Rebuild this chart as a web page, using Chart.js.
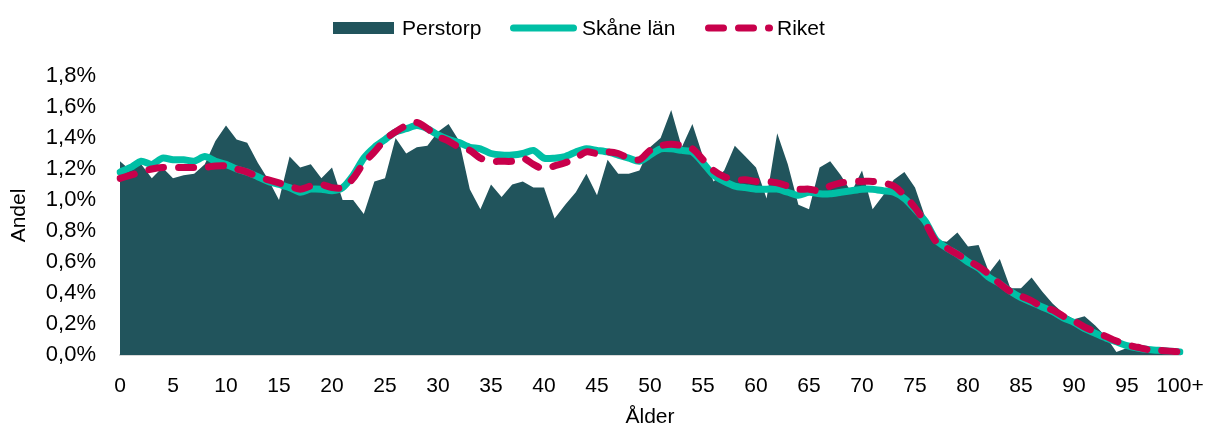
<!DOCTYPE html>
<html>
<head>
<meta charset="utf-8">
<script src="https://cdn.jsdelivr.net/npm/chart.js@4"></script>
<style>
  body { margin: 0; background: #fff; }
  #wrap { position: relative; width: 1211px; height: 430px; }
  #legend { position: absolute; left: 0; top: 0; width: 1211px; height: 50px;
            font: 21px 'Liberation Sans', Arial, sans-serif; color: #000; }
  #legend .sw, #legend .lbl { position: absolute; }
  #legend .lbl { top: 16px; line-height: 24px; white-space: nowrap; }
</style>
</head>
<body>
<div id="wrap">
  <canvas id="ageChart" width="1211" height="430"></canvas>
  <div id="legend">
    <svg class="sw" style="left:333px;top:22px" width="61" height="12"><rect width="61" height="12" fill="#21545C"/></svg>
    <span class="lbl" style="left:402px">Perstorp</span>
    <svg class="sw" style="left:510px;top:23px" width="67" height="10"><line x1="3.5" y1="5" x2="63.5" y2="5" stroke="#00BFA5" stroke-width="7" stroke-linecap="round"/></svg>
    <span class="lbl" style="left:582px">Skåne län</span>
    <svg class="sw" style="left:705px;top:23px" width="69" height="10"><line x1="3.5" y1="5" x2="64.5" y2="5" stroke="#C8004B" stroke-width="7" stroke-linecap="round" stroke-dasharray="15 15"/></svg>
    <span class="lbl" style="left:777px">Riket</span>
  </div>
</div>
<script>
const ages = ['0','1','2','3','4','5','6','7','8','9',
  '10','11','12','13','14','15','16','17','18','19',
  '20','21','22','23','24','25','26','27','28','29',
  '30','31','32','33','34','35','36','37','38','39',
  '40','41','42','43','44','45','46','47','48','49',
  '50','51','52','53','54','55','56','57','58','59',
  '60','61','62','63','64','65','66','67','68','69',
  '70','71','72','73','74','75','76','77','78','79',
  '80','81','82','83','84','85','86','87','88','89',
  '90','91','92','93','94','95','96','97','98','99','100+'];

// andel av befolkningen per ålder, i procent
const perstorp = [1.25,1.19,1.23,1.14,1.21,1.14,1.16,1.17,1.23,1.38,
  1.48,1.39,1.37,1.24,1.13,1.00,1.28,1.21,1.23,1.14,
  1.21,1.00,1.00,0.91,1.12,1.14,1.40,1.30,1.34,1.35,
  1.44,1.49,1.38,1.07,0.94,1.10,1.02,1.10,1.12,1.08,
  1.08,0.88,0.97,1.05,1.17,1.03,1.26,1.17,1.17,1.19,
  1.34,1.40,1.58,1.34,1.49,1.28,1.12,1.19,1.35,1.28,
  1.21,1.01,1.43,1.23,0.97,0.94,1.21,1.25,1.16,1.05,
  1.19,0.94,1.03,1.13,1.18,1.08,0.88,0.74,0.73,0.79,
  0.70,0.71,0.53,0.62,0.43,0.43,0.50,0.41,0.33,0.27,
  0.23,0.25,0.19,0.12,0.02,0.045,0.03,0.02,0.015,0.01,0.01];

const skane = [1.18,1.21,1.25,1.23,1.27,1.26,1.26,1.25,1.28,1.25,
  1.23,1.20,1.18,1.15,1.12,1.10,1.08,1.05,1.07,1.07,
  1.06,1.08,1.16,1.27,1.34,1.39,1.44,1.46,1.48,1.46,
  1.42,1.39,1.37,1.34,1.33,1.30,1.29,1.29,1.30,1.32,
  1.27,1.27,1.28,1.31,1.33,1.32,1.31,1.29,1.27,1.25,
  1.29,1.33,1.33,1.32,1.31,1.24,1.16,1.12,1.09,1.08,
  1.07,1.07,1.07,1.05,1.03,1.05,1.04,1.04,1.05,1.06,
  1.07,1.07,1.06,1.05,1.01,0.94,0.86,0.74,0.69,0.65,
  0.60,0.56,0.50,0.46,0.41,0.37,0.34,0.31,0.28,0.24,
  0.21,0.17,0.14,0.11,0.085,0.06,0.045,0.035,0.03,0.025,0.02];

const riket = [1.14,1.16,1.18,1.20,1.21,1.21,1.21,1.21,1.21,1.22,
  1.22,1.20,1.18,1.15,1.13,1.11,1.09,1.07,1.09,1.10,
  1.08,1.08,1.14,1.24,1.31,1.39,1.44,1.48,1.50,1.46,
  1.41,1.38,1.34,1.32,1.27,1.25,1.25,1.25,1.27,1.23,
  1.20,1.22,1.24,1.27,1.31,1.30,1.31,1.30,1.27,1.26,
  1.32,1.35,1.36,1.35,1.33,1.26,1.19,1.15,1.13,1.13,
  1.12,1.12,1.11,1.09,1.07,1.07,1.06,1.09,1.11,1.12,
  1.12,1.12,1.11,1.09,1.03,0.95,0.85,0.73,0.69,0.65,
  0.61,0.57,0.52,0.46,0.41,0.38,0.35,0.31,0.29,0.25,
  0.22,0.18,0.15,0.12,0.09,0.065,0.05,0.035,0.03,0.025,0.02];

const fontFamily = "'Liberation Sans', Arial, sans-serif";

const ctx = document.getElementById('ageChart').getContext('2d');
const chart = new Chart(ctx, {
  type: 'line',
  data: {
    labels: ages,
    datasets: [{
      label: 'Perstorp',
      data: perstorp,
      order: 3,
      fill: 'origin',
      backgroundColor: '#21545C',
      borderWidth: 0,
      pointRadius: 0,
      tension: 0,
    }, {
      label: 'Skåne län',
      data: skane,
      order: 2,
      fill: false,
      borderColor: '#00BFA5',
      borderWidth: 7,
      borderCapStyle: 'round',
      borderJoinStyle: 'round',
      pointRadius: 0,
      tension: 0.25,
    }, {
      label: 'Riket',
      data: riket,
      order: 1,
      fill: false,
      borderColor: '#C8004B',
      borderWidth: 7,
      borderDash: [15, 15],
      borderCapStyle: 'round',
      borderJoinStyle: 'round',
      pointRadius: 0,
      tension: 0.3,
    }]
  },
  options: {
    responsive: false,
    animation: false,
    devicePixelRatio: 1,
    layout: { padding: { left: 0, right: 31, top: 76, bottom: 0 } },
    plugins: {
      legend: { display: false },
      tooltip: { enabled: false },
    },
    scales: {
      x: {
        // tick marks hidden, tickLength only pushes the labels down
        grid: { display: false, drawTicks: true, tickLength: 19 },
        border: { display: true, color: '#D9D9D9', width: 2 },
        ticks: {
          autoSkip: false,
          maxRotation: 0,
          padding: 0,
          color: '#000',
          font: { family: fontFamily, size: 21 },
          callback: (v, i) => (i % 5 === 0 ? ages[i] : ''),
        },
        title: {
          display: true,
          text: 'Ålder',
          color: '#000',
          padding: 0,
          font: { family: fontFamily, size: 21 },
        },
        afterFit: s => { s.height = 75; s.paddingRight = 0; },
      },
      y: {
        min: 0,
        max: 1.8,
        grid: { display: false, drawTicks: false },
        border: { display: false },
        ticks: {
          stepSize: 0.2,
          padding: 24,
          color: '#000',
          font: { family: fontFamily, size: 22 },
          callback: v => v.toFixed(1).replace('.', ',') + '%',
        },
        title: {
          display: true,
          text: 'Andel',
          color: '#000',
          padding: { top: 7, bottom: 0 },
          font: { family: fontFamily, size: 21 },
        },
        afterFit: s => { s.width = 120; },
      }
    }
  }
});
</script>
</body>
</html>
